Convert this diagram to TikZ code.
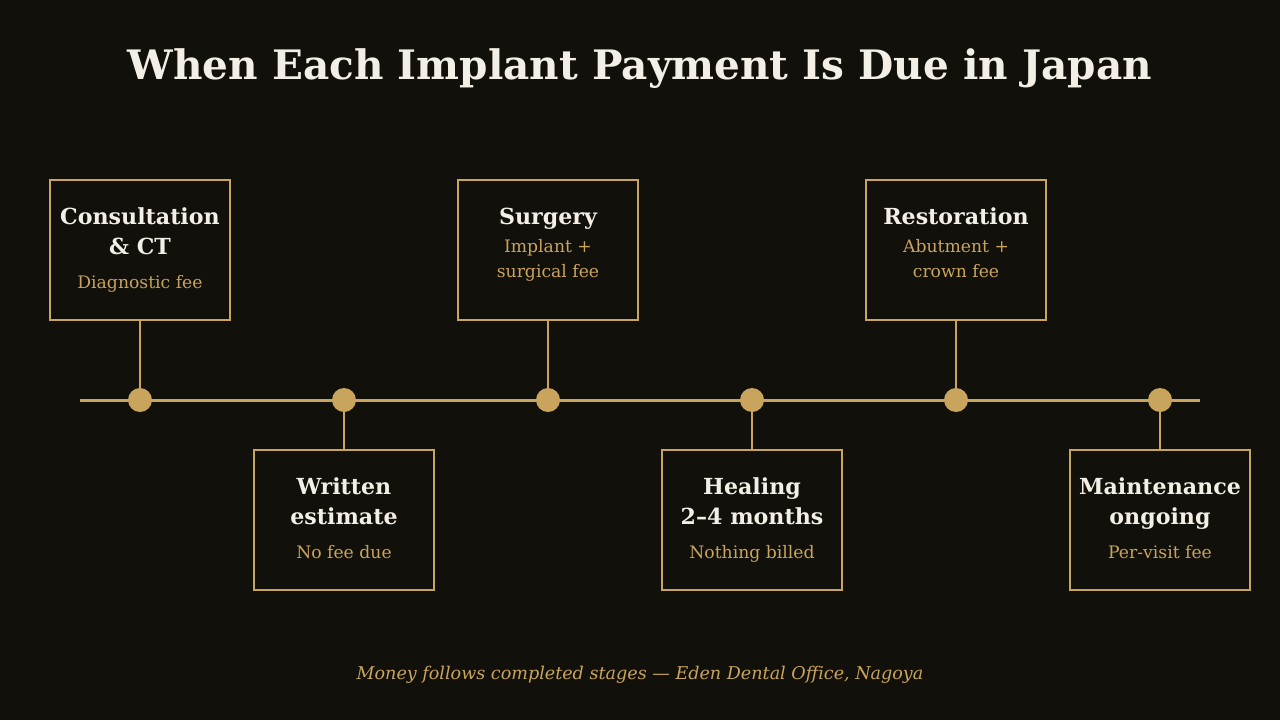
\documentclass[tikz,border=0pt]{standalone}
\usepackage{fontspec}
\setmainfont{DejaVu Serif}
\usepackage{xcolor}
\usetikzlibrary{positioning, calc}
\definecolor{bgdark}{HTML}{12100B}
\definecolor{gold}{HTML}{C9A45C}
\definecolor{cream}{HTML}{F3EFE6}

\begin{document}
\begin{tikzpicture}[x=0.02cm, y=-0.02cm,
    stage/.style={draw=gold, line width=1.1pt, fill=bgdark, minimum width=3.6cm, minimum height=2.8cm, inner sep=0pt},
    stagetext/.style={anchor=north, align=center, inner sep=0pt, text=cream, font=\fontsize{12.6}{17}\selectfont},
    dot/.style={circle, fill=gold, minimum size=0.48cm, inner sep=0pt},
    link/.style={draw=gold, line width=1.1pt}]
    \fill[bgdark] (0,0) rectangle (1280,720);
    \useasboundingbox (0,0) rectangle (1280,720);
    \node[anchor=base, text=cream, font=\bfseries\fontsize{23.1}{28}\selectfont] (title) at (640, 79) {When Each Implant Payment Is Due in Japan};
    % timeline
    \coordinate (lineL) at (80, 400);
    \coordinate (lineR) at (1200, 400);
    \draw[link, line width=1.7pt] (lineL) -- (lineR);
    \node[dot] (d1) at (140, 400) {};
    \node[dot] (d2) at (344, 400) {};
    \node[dot] (d3) at (548, 400) {};
    \node[dot] (d4) at (752, 400) {};
    \node[dot] (d5) at (956, 400) {};
    \node[dot] (d6) at (1160, 400) {};
    % stages above
    \node[stage] (consult) at (140, 250) {};
    \node[stage] (surgery) at (548, 250) {};
    \node[stage] (restore) at (956, 250) {};
    % stages below
    \node[stage] (estimate) at (344, 520) {};
    \node[stage] (healing) at (752, 520) {};
    \node[stage] (maintain) at (1160, 520) {};
    % texts
    \node[stagetext] (consultT) at (140, 207) {\bfseries\vphantom{l}Consultation\\\bfseries \& CT\\[2.8pt]\color{gold}\fontsize{9.8}{14}\selectfont Diagnostic fee};
    \node[stagetext] (surgeryT) at (548, 207) {\bfseries\vphantom{l}Surgery\\[-0.6pt]\color{gold}\fontsize{9.8}{14}\selectfont Implant +\\[-2.8pt]\color{gold}\fontsize{9.8}{14}\selectfont surgical fee};
    \node[stagetext] (restoreT) at (956, 207) {\bfseries\vphantom{l}Restoration\\[-0.6pt]\color{gold}\fontsize{9.8}{14}\selectfont Abutment +\\[-2.8pt]\color{gold}\fontsize{9.8}{14}\selectfont crown fee};
    \node[stagetext] (estimateT) at (344, 477) {\bfseries\vphantom{l}Written\\\bfseries estimate\\[2.8pt]\color{gold}\fontsize{9.8}{14}\selectfont No fee due};
    \node[stagetext] (healingT) at (752, 477) {\bfseries\vphantom{l}Healing\\\bfseries 2–4 months\\[2.8pt]\color{gold}\fontsize{9.8}{14}\selectfont Nothing billed};
    \node[stagetext] (maintainT) at (1160, 477) {\bfseries\vphantom{l}Maintenance\\\bfseries ongoing\\[2.8pt]\color{gold}\fontsize{9.8}{14}\selectfont Per-visit fee};
    \draw[link] (consult) -- (d1);
    \draw[link] (estimate) -- (d2);
    \draw[link] (surgery) -- (d3);
    \draw[link] (healing) -- (d4);
    \draw[link] (restore) -- (d5);
    \draw[link] (maintain) -- (d6);
    \node[anchor=base, text=gold, font=\itshape\fontsize{10}{13}\selectfont] (footer) at (640, 679) {Money follows completed stages — Eden Dental Office, Nagoya};
\end{tikzpicture}
\end{document}
